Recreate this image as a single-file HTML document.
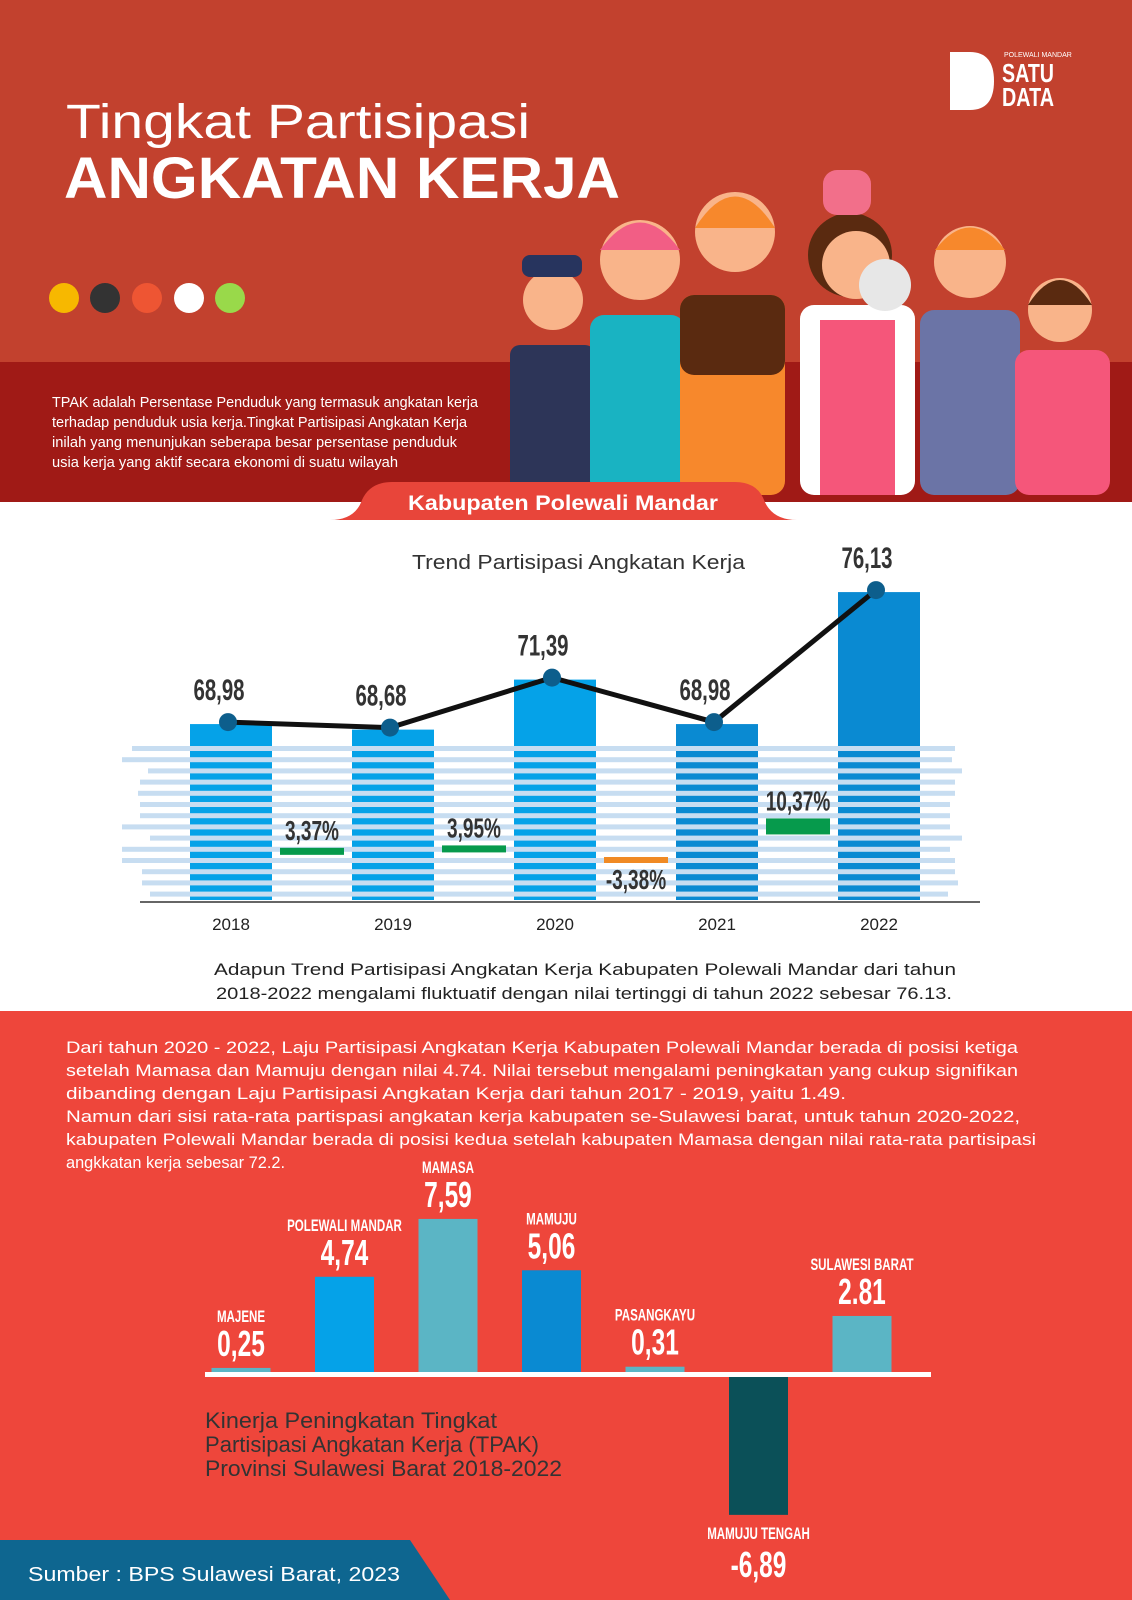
<!DOCTYPE html>
<html><head><meta charset="utf-8">
<style>
html,body{margin:0;padding:0;width:1132px;height:1600px;overflow:hidden;background:#fff}
svg{display:block}
.n{font-family:"Liberation Sans",sans-serif;font-weight:bold}
.s{font-family:"Liberation Sans",sans-serif}
</style></head>
<body>
<svg id="root" width="1132" height="1600" viewBox="0 0 1132 1600" xmlns="http://www.w3.org/2000/svg">
  <rect x="0" y="0" width="1132" height="362" fill="#c2412e"/>
  <rect x="0" y="362" width="1132" height="140" fill="#a01a16"/>
  <text class="s" x="66" y="138" font-size="48" fill="#fff" textLength="464" lengthAdjust="spacingAndGlyphs">Tingkat Partisipasi</text>
  <text class="s" x="64" y="198" font-size="58" font-weight="bold" fill="#fff" textLength="556" lengthAdjust="spacingAndGlyphs">ANGKATAN KERJA</text>
  <g>
    <circle cx="64" cy="298" r="15" fill="#f7b800"/>
    <circle cx="105" cy="298" r="15" fill="#333"/>
    <circle cx="147" cy="298" r="15" fill="#ee5533"/>
    <circle cx="189" cy="298" r="15" fill="#fff"/>
    <circle cx="230" cy="298" r="15" fill="#99d94a"/>
  </g>
  <g>
    <path d="M950 52 L970 52 Q994 52 994 81 Q994 110 970 110 L950 110 Z" fill="#fff"/>
    <text class="s" x="1004" y="57" font-size="7" fill="#fff">POLEWALI MANDAR</text>
    <text class="n" x="1002" y="82" font-size="26" fill="#fff" textLength="52" lengthAdjust="spacingAndGlyphs">SATU</text>
    <text class="n" x="1002" y="106" font-size="26" fill="#fff" textLength="52" lengthAdjust="spacingAndGlyphs">DATA</text>
  </g>
  <text class="s" font-size="14.5" fill="#fff">
    <tspan x="52" y="407" textLength="426" lengthAdjust="spacingAndGlyphs">TPAK adalah Persentase Penduduk yang termasuk angkatan kerja</tspan>
    <tspan x="52" y="427" textLength="415" lengthAdjust="spacingAndGlyphs">terhadap penduduk usia kerja.Tingkat Partisipasi Angkatan Kerja</tspan>
    <tspan x="52" y="447" textLength="405" lengthAdjust="spacingAndGlyphs">inilah yang menunjukan seberapa besar persentase penduduk</tspan>
    <tspan x="52" y="467" textLength="346" lengthAdjust="spacingAndGlyphs">usia kerja yang aktif secara ekonomi di suatu wilayah</tspan>
  </text>
  <g>
    <rect x="510" y="345" width="85" height="150" rx="10" fill="#2d3558"/>
    <circle cx="553" cy="300" r="30" fill="#f9b48a"/>
    <rect x="522" y="255" width="60" height="22" rx="8" fill="#27345e"/>
    <rect x="590" y="315" width="95" height="180" rx="14" fill="#19b3c2"/>
    <circle cx="640" cy="260" r="40" fill="#f9b48a"/>
    <path d="M600 250 Q640 195 680 250 Z" fill="#f25e85"/>
    <rect x="680" y="295" width="105" height="200" rx="14" fill="#f7882c"/>
    <rect x="680" y="295" width="105" height="80" rx="14" fill="#5a2a10"/>
    <circle cx="735" cy="232" r="40" fill="#f9b48a"/>
    <path d="M695 228 Q735 165 775 228 Z" fill="#f7882c"/>
    <rect x="800" y="305" width="115" height="190" rx="14" fill="#fff"/>
    <rect x="820" y="320" width="75" height="175" fill="#f5567a"/>
    <circle cx="850" cy="255" r="42" fill="#5a2a10"/>
    <circle cx="856" cy="265" r="34" fill="#f9b48a"/>
    <rect x="823" y="170" width="48" height="45" rx="14" fill="#f26f8a"/>
    <rect x="920" y="310" width="100" height="185" rx="14" fill="#6b74a6"/>
    <circle cx="970" cy="262" r="36" fill="#f9b48a"/>
    <path d="M935 250 Q970 205 1005 250 Z" fill="#f7882c"/>
    <rect x="1015" y="350" width="95" height="145" rx="14" fill="#f5567a"/>
    <circle cx="1060" cy="310" r="32" fill="#f9b48a"/>
    <path d="M1028 305 Q1060 255 1092 305 Z" fill="#5a2a10"/>
    <circle cx="885" cy="285" r="26" fill="#e7e7e7"/>
  </g>
  <path d="M330 520 Q355 520 362 500 Q370 482 392 482 L735 482 Q757 482 764 500 Q772 520 797 520 Z" fill="#e8453a"/>
  <text class="s" x="563" y="510" font-size="21" font-weight="bold" fill="#fff" text-anchor="middle" textLength="310" lengthAdjust="spacingAndGlyphs">Kabupaten Polewali Mandar</text>

  <text class="s" x="412" y="569" font-size="20" fill="#333" textLength="333" lengthAdjust="spacingAndGlyphs">Trend Partisipasi Angkatan Kerja</text>
  <g id="trend"></g>
  <text class="s" font-size="17" fill="#222">
    <tspan x="214" y="975" textLength="742" lengthAdjust="spacingAndGlyphs">Adapun Trend Partisipasi Angkatan Kerja Kabupaten Polewali Mandar dari tahun</tspan>
    <tspan x="216" y="999" textLength="736" lengthAdjust="spacingAndGlyphs">2018-2022 mengalami fluktuatif dengan nilai tertinggi di tahun 2022 sebesar 76.13.</tspan>
  </text>

  <rect x="0" y="1011" width="1132" height="589" fill="#ee463b"/>
  <text class="s" font-size="17" fill="#fff">
    <tspan x="66" y="1053" textLength="952" lengthAdjust="spacingAndGlyphs">Dari tahun 2020 - 2022, Laju Partisipasi Angkatan Kerja Kabupaten Polewali Mandar berada di posisi ketiga</tspan>
    <tspan x="66" y="1076" textLength="952" lengthAdjust="spacingAndGlyphs">setelah Mamasa dan Mamuju dengan nilai 4.74. Nilai tersebut mengalami peningkatan yang cukup signifikan</tspan>
    <tspan x="66" y="1099" textLength="780" lengthAdjust="spacingAndGlyphs">dibanding dengan Laju Partisipasi Angkatan Kerja dari tahun 2017 - 2019, yaitu 1.49.</tspan>
    <tspan x="66" y="1122" textLength="954" lengthAdjust="spacingAndGlyphs">Namun dari sisi rata-rata partispasi angkatan kerja kabupaten se-Sulawesi barat, untuk tahun 2020-2022,</tspan>
    <tspan x="66" y="1145" textLength="970" lengthAdjust="spacingAndGlyphs">kabupaten Polewali Mandar berada di posisi kedua setelah kabupaten Mamasa dengan nilai rata-rata partisipasi</tspan>
    <tspan x="66" y="1168" textLength="219" lengthAdjust="spacingAndGlyphs">angkkatan kerja sebesar 72.2.</tspan>
  </text>
  <g id="kinerja"></g>
  <text class="s" font-size="22" fill="#333">
    <tspan x="205" y="1428" textLength="292" lengthAdjust="spacingAndGlyphs">Kinerja Peningkatan Tingkat</tspan>
    <tspan x="205" y="1452" textLength="334" lengthAdjust="spacingAndGlyphs">Partisipasi Angkatan Kerja (TPAK)</tspan>
    <tspan x="205" y="1476" textLength="357" lengthAdjust="spacingAndGlyphs">Provinsi Sulawesi Barat 2018-2022</tspan>
  </text>
  <path d="M0 1540 L410 1540 L450 1600 L0 1600 Z" fill="#0e6690"/>
  <text class="s" x="28" y="1581" font-size="20" fill="#fff" textLength="372" lengthAdjust="spacingAndGlyphs">Sumber : BPS Sulawesi Barat, 2023</text>
</svg>
<script>
const years = ["2018","2019","2020","2021","2022"];
const tpak = [68.98, 68.68, 71.39, 68.98, 76.13];
const tpakLabels = ["68,98","68,68","71,39","68,98","76,13"];
const growth = [3.37, 3.95, -3.38, 10.37];
const growthLabels = ["3,37%","3,95%","-3,38%","10,37%"];
const regions = ["MAJENE","POLEWALI MANDAR","MAMASA","MAMUJU","PASANGKAYU","MAMUJU TENGAH","SULAWESI BARAT"];
const kinerja = [0.25, 4.74, 7.59, 5.06, 0.31, -6.89, 2.81];
const kinerjaLabels = ["0,25","4,74","7,59","5,06","0,31","-6,89","2.81"];

const NS = "http://www.w3.org/2000/svg";
function mk(tag, attrs, parent){const e=document.createElementNS(NS,tag);for(const k in attrs)e.setAttribute(k,attrs[k]);parent.appendChild(e);return e;}
function narrow(t,x){t.setAttribute('transform','translate('+x+',0) scale(0.68,1) translate('+(-x)+',0)');}

(function(){
  const g = document.getElementById('trend');
  const base = 900;
  const x = i => 231 + i*162;
  const y = v => base - (v - 59.45) * 18.46;
  const bw = 82;
  years.forEach((yr,i)=>{
    const r = mk('rect',{x:x(i)-bw/2,y:y(tpak[i]),width:bw,height:base-y(tpak[i]),fill:i>=3?'#0a8ad2':'#05a2e8'},g);
    
    
  });
  const ext=[[132,955],[122,952],[148,962],[140,955],[138,955],[140,950],[140,950],[122,950],[150,962],[122,950],[122,955],[142,955],[142,958],[150,948]];
  ext.forEach((e,k)=>{
    const s=mk('rect',{x:e[0],y:746+k*11.2,width:e[1]-e[0],height:5,fill:'#c7ddf1'},g);
    
    
  });
  mk('line',{x1:140,y1:902,x2:980,y2:902,stroke:'#333','stroke-width':1.5},g);
  const gy = v => 862 - v*4.2;
  growth.forEach((v,i)=>{
    const cx = (x(i)+x(i+1))/2;
    const rh = v>=0 ? (v>5?16:7) : 6;
    const ry = v>=0 ? gy(v) : 857;
    const r = mk('rect',{x:cx-32,y:ry,width:64,height:rh,fill:v>=0?'#069a4c':'#f08a24'},g);
    
    
    const t = mk('text',{x:cx,y:v>=0?ry-8:ry+32,'text-anchor':'middle','font-size':28,fill:'#333',class:'n'},g);
    t.textContent = growthLabels[i];
    narrow(t,cx);
    
    
  });
  const pts = tpak.map((v,i)=>(x(i)-3)+','+(y(v)-2)).join(' ');
  const pl = mk('polyline',{points:pts,fill:'none',stroke:'#111','stroke-width':5},g);
  
  
  tpak.forEach((v,i)=>{
    const c = mk('circle',{cx:x(i)-3,cy:y(v)-2,r:9,fill:'#0d5e8c'},g);
    
    
    const lx = x(i)-12;
    const t = mk('text',{x:lx,y:y(v)-24,'text-anchor':'middle','font-size':30,fill:'#333',class:'n'},g);
    t.textContent = tpakLabels[i];
    narrow(t,lx);
    
    
    const yl = mk('text',{x:x(i),y:930,'text-anchor':'middle','font-size':17,fill:'#222',class:'s'},g);
    yl.textContent = years[i];
    
    
  });
})();

(function(){
  const g = document.getElementById('kinerja');
  const base = 1373;
  const x = i => 241 + i*103.5;
  const k = 20.3;
  const cols = ['#5bb5c5','#05a2e8','#5bb5c5','#0a8ad2','#5bb5c5','#0b5058','#5bb5c5'];
  const bw = 59;
  regions.forEach((r,i)=>{
    const v = kinerja[i];
    const h = Math.abs(v)*k;
    const rect = mk('rect',{x:x(i)-bw/2,y:v>=0?base-h:base+2,width:bw,height:h,fill:cols[i]},g);
    
    
    const vy = v>=0 ? base-h-12 : base+2+h+62;
    const ny = v>=0 ? base-h-46 : base+2+h+24;
    const vt = mk('text',{x:x(i),y:vy,'text-anchor':'middle','font-size':36,fill:'#fff',class:'n'},g);
    vt.textContent = kinerjaLabels[i];
    narrow(vt,x(i));
    
    
    const nt = mk('text',{x:x(i),y:ny,'text-anchor':'middle','font-size':17,fill:'#fff',class:'n'},g);
    nt.textContent = r;
    narrow(nt,x(i));
    
    
  });
  const ax = mk('rect',{x:205,y:base-1,width:726,height:5,fill:'#fff'},g);
  
  
})();
</script>
</body></html>
